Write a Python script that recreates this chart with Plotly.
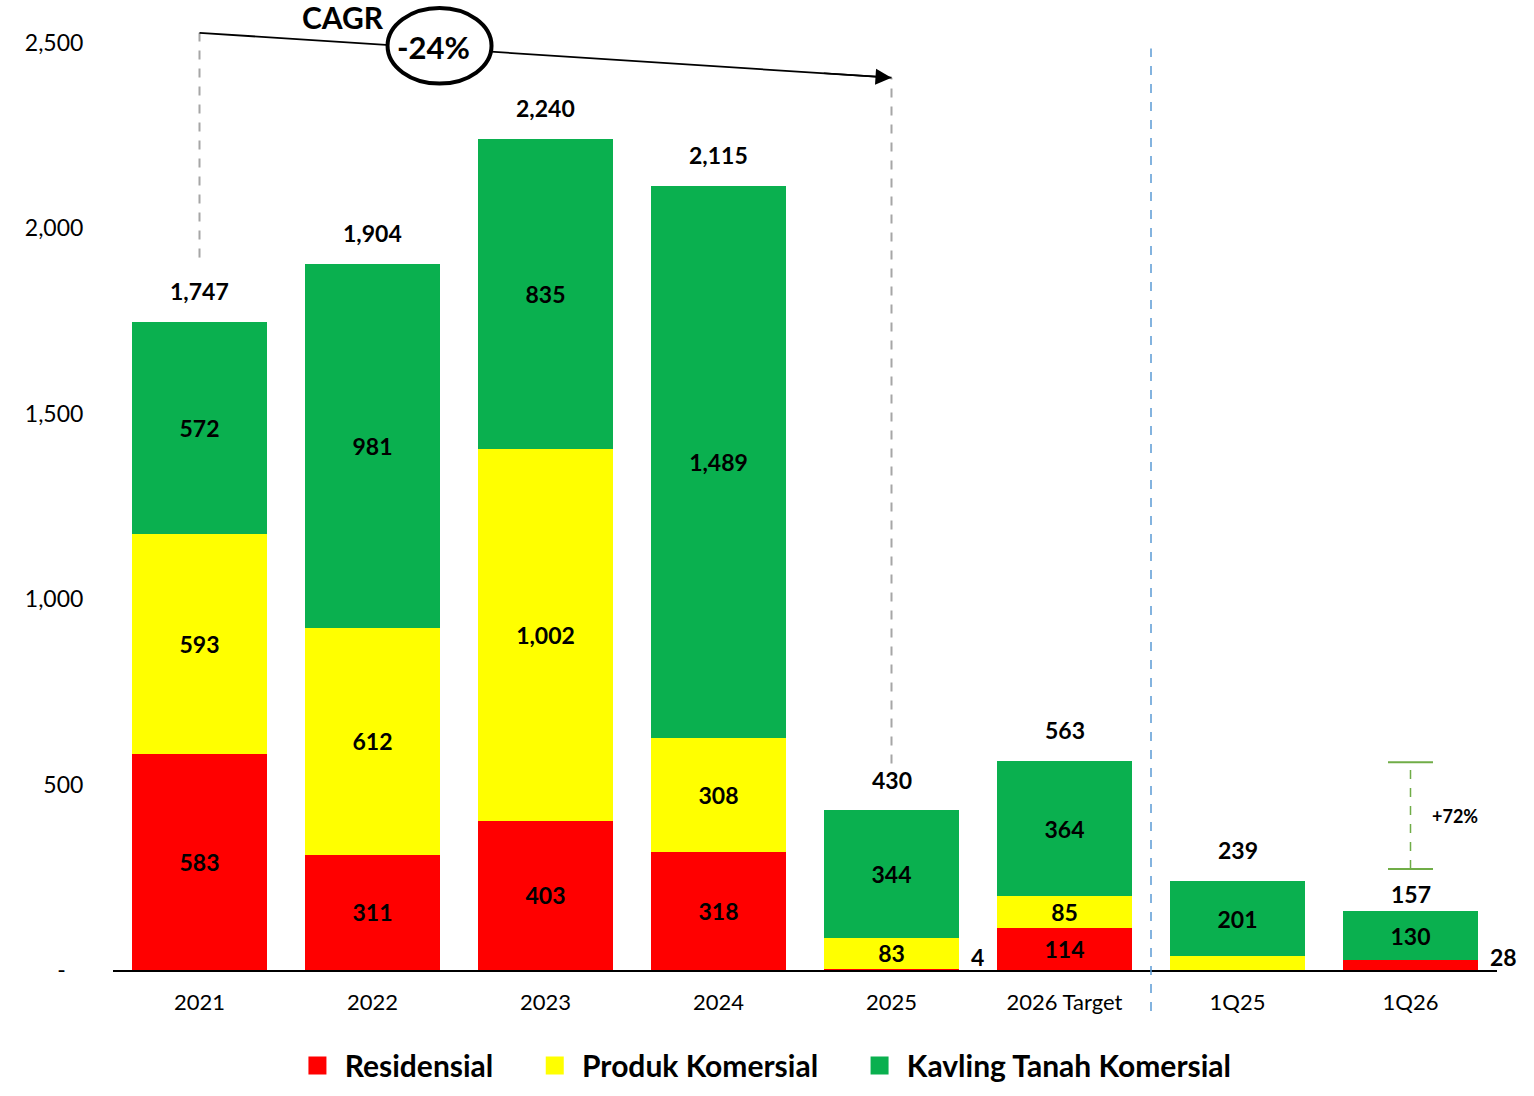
import plotly.graph_objects as go

categories = ["2021", "2022", "2023", "2024", "2025", "2026 Target", "1Q25", "1Q26"]
residensial = [583, 311, 403, 318, 4, 114, 0, 28]
produk_komersial = [593, 612, 1002, 308, 83, 85, 38, 0]
kavling = [572, 981, 835, 1489, 344, 364, 201, 130]
totals = [1747, 1904, 2240, 2115, 430, 563, 239, 157]
y_tickvals = [0, 500, 1000, 1500, 2000, 2500]
y_ticktext = ["-\u00a0\u00a0\u00a0", "500", "1,000", "1,500", "2,000", "2,500"]
cagr_text = "-24%"
growth_text = "+72%"

RED = "#FF0000"
YELLOW = "#FFFF00"
GREEN = "#0AB04F"
FONT = "Lato"
BOLD = dict(family=FONT, size=23, color="black", weight="bold")


def fmt(v):
    return f"{v:,}"


def inside_labels(vals, hide):
    return ["" if (i in hide or v == 0) else fmt(v) for i, v in enumerate(vals)]


fig = go.Figure()
series = [
    ("Residensial", residensial, RED, {4, 7}),
    ("Produk Komersial", produk_komersial, YELLOW, {6}),
    ("Kavling Tanah Komersial", kavling, GREEN, set()),
]
xi = list(range(len(categories)))
for name, vals, col, hide in series:
    fig.add_trace(go.Bar(
        x=xi, y=vals, name=name, marker=dict(color=col, line=dict(width=0)),
        text=inside_labels(vals, hide), textposition="inside", insidetextanchor="middle",
        constraintext="none", textangle=0,
        textfont=BOLD, showlegend=False, hoverinfo="skip",
    ))
# legend proxies
for k, (name, vals, col, hide) in enumerate(series):
    pad = "\u00a0" * 5 if k < len(series) - 1 else ""
    fig.add_trace(go.Scatter(
        x=[None], y=[None], mode="markers", name="\u00a0" + name + pad,
        marker=dict(symbol="square", size=16, color=col, line=dict(color=col, width=2)),
    ))

# totals above bars
for i, (c, t) in enumerate(zip(categories, totals)):
    shift = 18 if c == "1Q26" else 31
    fig.add_annotation(x=i, y=t, text=fmt(t), showarrow=False, yanchor="middle",
                       yshift=shift, font=BOLD)

# small outside labels (residensial values too small to fit)
for idx in (4, 7):
    fig.add_annotation(x=idx + 0.39, y=0, xref="x", text=fmt(residensial[idx]),
                       showarrow=False, xanchor="left", yanchor="bottom",
                       xshift=10, yshift=-3, font=BOLD)

# CAGR annotation
y_start = 2527
y_end = 2406
fig.add_shape(type="line", x0=0, x1=0, y0=1921, y1=y_start, xref="x", yref="y",
              line=dict(color="#A6A6A6", width=2, dash="dash"))
fig.add_shape(type="line", x0=4, x1=4, y0=557, y1=y_end, xref="x", yref="y",
              line=dict(color="#A6A6A6", width=2, dash="dash"))
fig.add_shape(type="line", x0=0, x1=4, y0=y_start, y1=y_end, xref="x", yref="y",
              line=dict(color="black", width=1.8))
t_head = 0.9
fig.add_annotation(x=4, y=y_end, ax=4 - (1 - t_head) * 4, ay=y_end + (1 - t_head) * (y_start - y_end),
                   xref="x", yref="y", axref="x", ayref="y",
                   showarrow=True, arrowhead=2, arrowsize=2.0, arrowwidth=1.6,
                   arrowcolor="black", text="", standoff=0)
fig.add_shape(type="circle", x0=1.087, x1=1.688, y0=2390, y1=2594, xref="x", yref="y",
              line=dict(color="black", width=4), fillcolor="white")
fig.add_annotation(x=1.355, y=2490, text=cagr_text, showarrow=False,
                   font=dict(family=FONT, size=31, color="black", weight="bold"))
fig.add_annotation(x=0.83, y=1.0052, yref="paper", yanchor="top", yshift=3, text="CAGR",
                   showarrow=False, font=dict(family=FONT, size=30, color="black", weight="bold"))

# divider
fig.add_shape(type="line", x0=5.5, x1=5.5, y0=-0.0424, y1=0.955, xref="x", yref="paper",
              line=dict(color="#5B9BD5", width=1.5, dash="dash"))

# +72% bracket
g_top, g_bot = 560, 272
fig.add_shape(type="line", x0=7, x1=7, y0=g_bot, y1=g_top, xref="x", yref="y",
              line=dict(color="#70AD47", width=1.5, dash="dash"))
for yy in (g_bot, g_top):
    fig.add_shape(type="line", x0=6.87, x1=7.13, y0=yy, y1=yy, xref="x", yref="y",
                  line=dict(color="#70AD47", width=2))
fig.add_annotation(x=7.26, y=(g_top + g_bot) / 2, text=growth_text, showarrow=False,
                   xanchor="center", font=dict(family=FONT, size=18, color="black", weight="bold"))

fig.update_layout(
    barmode="stack", bargap=0.22,
    width=1534, height=1096,
    margin=dict(l=113, r=37, t=5, b=124),
    plot_bgcolor="white", paper_bgcolor="white",
    font=dict(family=FONT, size=21, color="black"),
    showlegend=True,
    legend=dict(orientation="h", x=0.4725, xanchor="center", y=-0.099, yanchor="middle",
                font=dict(family=FONT, size=30, color="black", weight="bold"),
                traceorder="normal"),
    xaxis=dict(showline=True, linecolor="black", linewidth=2, showgrid=False,
               tickvals=xi, ticktext=categories,
               ticks="outside", ticklen=12, tickcolor="rgba(0,0,0,0)",
               tickfont=dict(family=FONT, size=22), range=[-0.5, 7.5]),
    yaxis=dict(range=[0, 2602], tickvals=y_tickvals, ticktext=y_ticktext, showgrid=False,
               zeroline=False, showline=False, ticks="outside", ticklen=24,
               tickcolor="rgba(0,0,0,0)", tickfont=dict(family=FONT, size=23)),
)

fig.write_html("out.html")
